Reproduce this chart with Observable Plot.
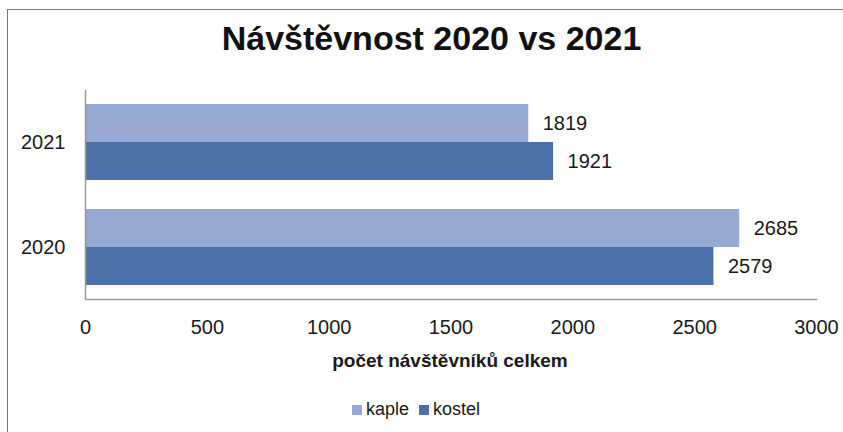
<!DOCTYPE html>
<html><head><meta charset="utf-8">
<script src="https://cdn.jsdelivr.net/npm/d3@7"></script>
<script src="https://cdn.jsdelivr.net/npm/@observablehq/plot@0.6"></script>
<style>
body{margin:0;background:#fff;}
#wrap{position:relative;width:843px;height:432px;overflow:hidden;font-family:"Liberation Sans",Arial,sans-serif;color:#1a1a1a;}
#border{position:absolute;left:7px;top:9px;width:900px;height:500px;border:1.5px solid #7a7a7a;}
#title{position:absolute;top:19px;left:20px;width:823px;text-align:center;font-weight:bold;font-size:34px;color:#111;}
#chart{position:absolute;left:0;top:0;}
#xlabel{position:absolute;top:350px;left:0;width:900px;text-align:center;font-weight:bold;font-size:19px;}
#legend{position:absolute;top:399px;left:352px;font-size:18px;display:flex;align-items:center;gap:0;}
#legend .sw{display:inline-block;width:10px;height:10px;margin-right:4px;}
#legend .it{display:flex;align-items:center;margin-right:10px;}
</style></head>
<body><div id="wrap"><div id="border"></div><div id="title">Návštěvnost 2020 vs 2021</div><div id="chart"></div><div id="xlabel">počet návštěvníků celkem</div><div id="legend"></div></div>
<script>
const years = ["2021", "2020"];
const series = ["kaple", "kostel"];
const colors = ["#96a9d3", "#4a71aa"];
const kaple = [1819, 2685];
const kostel = [1921, 2579];
const xTicks = [0, 500, 1000, 1500, 2000, 2500, 3000];

const data = years.map((y, i) => ({year: y, kaple: kaple[i], kostel: kostel[i]}));

const chart = Plot.plot({
  width: 843, height: 432,
  marginTop: 90, marginBottom: 133, marginLeft: 85, marginRight: 27,
  style: {fontFamily: '"Liberation Sans", Arial, sans-serif', fontSize: "20px", color: "#1a1a1a", background: "transparent", overflow: "visible"},
  x: {domain: [0, 3000], ticks: xTicks, tickSize: 0, tickPadding: 20, label: null, tickFormat: d => String(d)},
  y: {domain: years, paddingInner: 0.276, paddingOuter: 0.133, tickSize: 0, tickPadding: 20, label: null},
  marks: [
    Plot.barX(data, {x: "kaple", y: "year", fill: colors[0], insetBottom: 38}),
    Plot.barX(data, {x: "kostel", y: "year", fill: colors[1], insetTop: 38}),
    Plot.text(data, {x: "kaple", y: "year", dy: -19, dx: 14, text: d => String(d.kaple), textAnchor: "start", fill: "#1a1a1a"}),
    Plot.text(data, {x: "kostel", y: "year", dy: 19, dx: 14, text: d => String(d.kostel), textAnchor: "start", fill: "#1a1a1a"}),
    Plot.ruleX([0], {stroke: "#9a9a9a", strokeWidth: 1.5}),
    Plot.frame({anchor: "bottom", stroke: "#9a9a9a", strokeWidth: 1.5})
  ]
});
document.getElementById("chart").appendChild(chart);

const leg = document.getElementById("legend");
series.forEach((s, i) => {
  const it = document.createElement("span");
  it.className = "it";
  it.innerHTML = `<span class="sw" style="background:${colors[i]}"></span>${s}`;
  leg.appendChild(it);
});
</script></body></html>
